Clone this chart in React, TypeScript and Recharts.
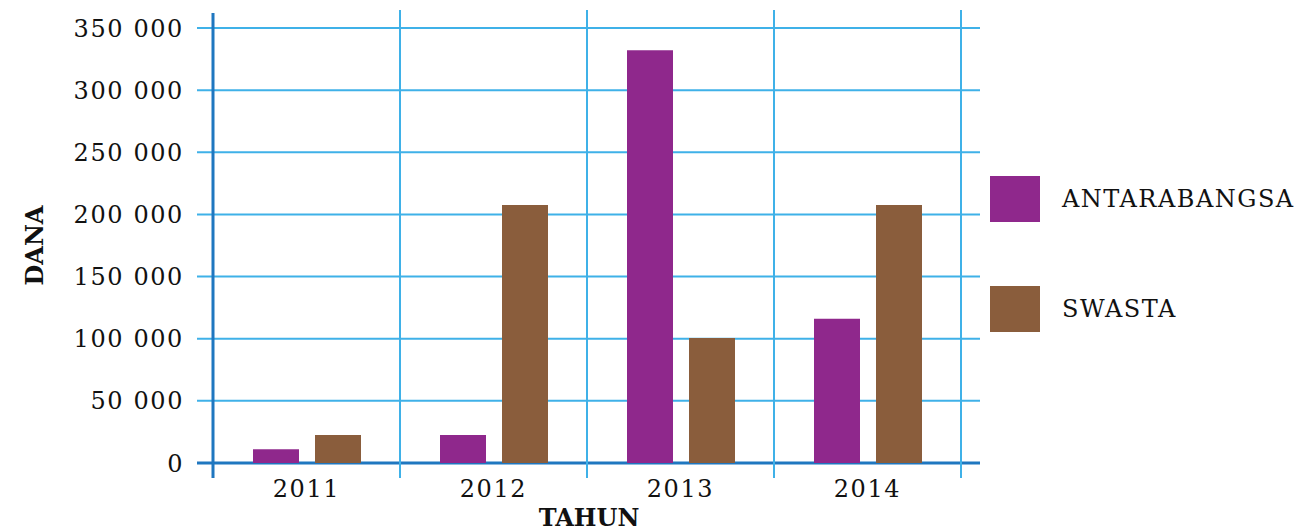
import { Bar, BarChart, CartesianGrid, Label, Legend, XAxis, YAxis } from "recharts";

const WIDTH = 1298;
const HEIGHT = 531;
const MARGIN = { top: 28, right: 337, bottom: 0, left: 0 };
const Y_AXIS_WIDTH = 213;
const X_AXIS_HEIGHT = 68;
const PLOT_LEFT = MARGIN.left + Y_AXIS_WIDTH;
const PLOT_WIDTH = WIDTH - PLOT_LEFT - MARGIN.right;
const PLOT_BOTTOM = HEIGHT - MARGIN.bottom - X_AXIS_HEIGHT;

const GRID = "#3fb1e8";
const AXIS = "#1f77c0";
const FONT = "'DejaVu Serif', serif";

// data
const years = ["2011", "2012", "2013", "2014"];
const antarabangsa = [11000, 22500, 332000, 116000];
const swasta = [22500, 207500, 100500, 207500];
const yTicks = [0, 50000, 100000, 150000, 200000, 250000, 300000, 350000];

const series = [
  { key: "antarabangsa", name: "ANTARABANGSA", color: "#8f288c" },
  { key: "swasta", name: "SWASTA", color: "#8a5d3c" },
];

const rows = years.map((year, i) => ({
  year,
  antarabangsa: antarabangsa[i],
  swasta: swasta[i],
}));

const tickStyle = { fill: "#111", fontSize: 24, fontFamily: FONT, letterSpacing: 1.6 };

function formatThousands(value: number) {
  return String(value).replace(/\B(?=(\d{3})+(?!\d))/g, " ");
}

function HorizontalLine(props: any) {
  const isBase = Math.abs(props.y1 - PLOT_BOTTOM) < 1;
  return (
    <line
      key={`h-${props.index}`}
      x1={props.x1 - 16}
      x2={props.x2 + 19}
      y1={props.y1}
      y2={props.y2}
      stroke={isBase ? AXIS : GRID}
      strokeWidth={isBase ? 3 : 2}
    />
  );
}

function VerticalLine(props: any) {
  const isAxis = Math.abs(props.x1 - PLOT_LEFT) < 1;
  return (
    <line
      key={`v-${props.index}`}
      x1={props.x1}
      x2={props.x2}
      y1={props.y1 - (isAxis ? 15 : 18)}
      y2={props.y2 + 15}
      stroke={isAxis ? AXIS : GRID}
      strokeWidth={isAxis ? 3 : 2}
    />
  );
}

function verticalBoundaries(args: any) {
  const left = args?.offset?.left ?? PLOT_LEFT;
  const width = args?.offset?.width ?? PLOT_WIDTH;
  const step = width / years.length;
  return [...years.map((_, i) => left + i * step), left + width];
}

function DanaLabel(props: any) {
  const vb = props.viewBox ?? { x: 0, y: MARGIN.top, height: PLOT_BOTTOM - MARGIN.top };
  const x = vb.x + 34;
  const y = vb.y + vb.height / 2;
  return (
    <text
      x={x}
      y={y}
      transform={`rotate(-90 ${x} ${y})`}
      textAnchor="middle"
      dominantBaseline="central"
      fontFamily={FONT}
      fontWeight="bold"
      fontSize={24}
      fill="#111"
    >
      DANA
    </text>
  );
}

function TahunLabel(props: any) {
  const vb = props.viewBox ?? { x: PLOT_LEFT, y: PLOT_BOTTOM, width: PLOT_WIDTH };
  return (
    <text
      x={vb.x + vb.width / 2 + 2}
      y={vb.y + 54}
      textAnchor="middle"
      dominantBaseline="central"
      fontFamily={FONT}
      fontWeight="bold"
      fontSize={24}
      fill="#111"
    >
      TAHUN
    </text>
  );
}

function LegendContent(props: any) {
  const payload = props.payload ?? [];
  return (
    <div style={{ display: "flex", flexDirection: "column", gap: 64 }}>
      {payload.map((entry: any) => (
        <div key={entry.value} style={{ display: "flex", alignItems: "center", height: 46 }}>
          <div style={{ width: 50, height: 46, background: entry.color }} />
          <span
            style={{
              marginLeft: 22,
              fontFamily: FONT,
              fontSize: 24,
              letterSpacing: 1.5,
              color: "#111",
              whiteSpace: "nowrap",
            }}
          >
            {entry.value}
          </span>
        </div>
      ))}
    </div>
  );
}

export default function App() {
  return (
    <div style={{ width: WIDTH, height: HEIGHT, background: "#fff" }}>
      <style>{`body { margin: 0; }`}</style>
      <BarChart width={WIDTH} height={HEIGHT} data={rows} margin={MARGIN} barGap={16}>
        <CartesianGrid
          horizontal={HorizontalLine}
          vertical={VerticalLine}
          verticalCoordinatesGenerator={verticalBoundaries}
        />
        <XAxis
          dataKey="year"
          height={X_AXIS_HEIGHT}
          axisLine={false}
          tickLine={false}
          tickSize={6}
          tickMargin={11}
          tick={tickStyle}
          label={<Label content={TahunLabel} />}
        />
        <YAxis
          width={Y_AXIS_WIDTH}
          domain={[0, 350000]}
          ticks={yTicks}
          axisLine={false}
          tickLine={false}
          tickSize={6}
          tickMargin={23}
          tickFormatter={formatThousands}
          tick={tickStyle}
          label={<Label content={DanaLabel} />}
        />
        <Legend
          layout="horizontal"
          verticalAlign="middle"
          align="center"
          content={LegendContent}
          wrapperStyle={{ left: 990, top: 176, width: 308 }}
        />
        {series.map((s) => (
          <Bar
            key={s.key}
            dataKey={s.key}
            name={s.name}
            fill={s.color}
            barSize={46}
            isAnimationActive={false}
          />
        ))}
      </BarChart>
    </div>
  );
}
